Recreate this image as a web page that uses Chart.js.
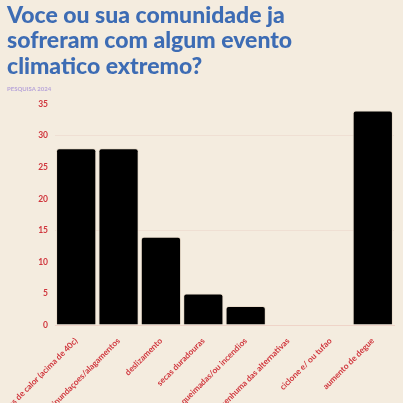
<!DOCTYPE html>
<html><head><meta charset="utf-8">
<script src="https://cdn.jsdelivr.net/npm/chart.js@4"></script>
<style>
html,body{margin:0;padding:0;background:#f4ecdf;}
#wrap{width:403px;height:403px;}
</style></head>
<body><div id="wrap"><canvas id="c" width="403" height="403"></canvas></div>
<script>
const categories = ["ondas de calor (acima de 40c)","inundaçoes/alagamentos","deslizamento","secas duradouras","queimadas/ou incendios","nenhuma das alternativas","ciclone e/ ou tufao","aumento de degue"];
const values = [28, 28, 14, 5, 3, 0, 0, 34];
const titleLines = ["Voce ou sua comunidade ja","sofreram com algum evento","climatico extremo?"];
const subtitleText = "PESQUISA 2024";

new Chart(document.getElementById('c'), {
  type: 'bar',
  data: { labels: categories, datasets: [{ data: values, backgroundColor: '#000000', borderColor: '#e9dccb', borderWidth: 1, borderRadius: 3, borderSkipped: 'bottom', barPercentage: 0.95, categoryPercentage: 1.0 }] },
  options: {
    responsive: false, animation: false,
    layout: { padding: { left: 7, right: 9, top: 1, bottom: 0 } },
    plugins: {
      legend: { display: false }, tooltip: { enabled: false },
      title: { display: true, text: titleLines, align: 'start', color: '#3d6cb4', font: { family: 'Lato', size: 23, weight: 900, lineHeight: 1.1 }, padding: { top: 2, bottom: 7 } },
      subtitle: { display: true, text: subtitleText, align: 'start', color: '#b8a5d9', font: { family: 'Lato', size: 6, weight: 'bold' }, padding: { top: 0, bottom: 11 } }
    },
    scales: {
      x: { grid: { display: false }, border: { color: '#efd4c8' },
           afterFit: (s) => { s.paddingLeft = 0; s.paddingRight = 0; s.height = 78; },
           ticks: { color: '#d0363d', font: { family: 'Lato', size: 8.3, weight: 'bold' }, maxRotation: 45, minRotation: 45, autoSkip: false, padding: 3 } },
      y: { min: 0, max: 35, afterFit: (s) => { s.width = 48; },
           ticks: { stepSize: 5, color: '#d0363d', font: { family: 'Lato', size: 8.5, weight: 'bold' }, padding: 7 },
           border: { display: false },
           grid: { color: (ctx) => (ctx.tick && (ctx.tick.value === 15 || ctx.tick.value === 30)) ? '#efdfd3' : 'rgba(0,0,0,0)', drawTicks: false } }
    }
  }
});
</script></body></html>
